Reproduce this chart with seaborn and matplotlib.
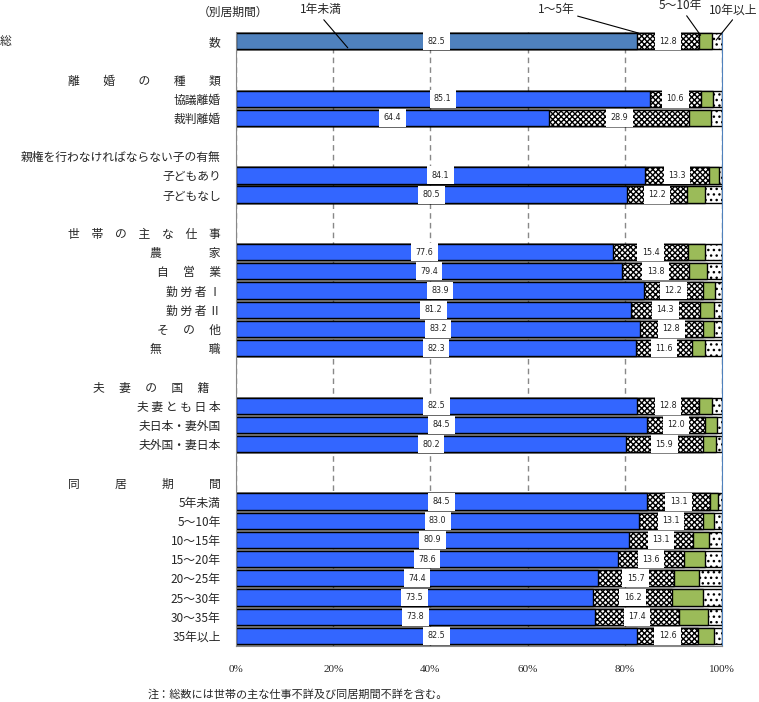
import pandas as pd
import matplotlib
matplotlib.use("Agg")
import matplotlib.pyplot as plt
import seaborn as sns

# =====================================================
# DATA
# =====================================================

# row keys (top to bottom); blank rows use distinct space strings
rows = [
    "総数", " ",
    "離婚の種類", "協議離婚", "裁判離婚", "  ",
    "親権", "子どもあり", "子どもなし", "   ",
    "世帯の主な仕事", "農家", "自営業", "勤労者Ⅰ", "勤労者Ⅱ", "その他", "無職", "    ",
    "夫妻の国籍", "夫妻とも日本", "夫日本・妻外国", "夫外国・妻日本", "     ",
    "同居期間", "5年未満", "5～10年", "10～15年", "15～20年",
    "20～25年", "25～30年", "30～35年", "35年以上",
]

# labels as shown on the axis (spaced like the original)
row_labels = [
    "数", "",
    "離　　婚　　の　　種　　類", "協議離婚", "裁判離婚", "",
    "親権を行わなければならない子の有無", "子どもあり", "子どもなし", "",
    "世　帯　の　主　な　仕　事", "農　　　　家", "自　 営　 業", "勤 労 者 Ⅰ", "勤 労 者 Ⅱ",
    "そ　 の　 他", "無　　　　職", "",
    "夫　 妻　 の　 国　 籍　", "夫 妻 と も 日 本", "夫日本・妻外国", "夫外国・妻日本", "",
    "同　　　居　　　期　　　間", "5年未満", "5～10年", "10～15年", "15～20年",
    "20～25年", "25～30年", "30～35年", "35年以上",
]

# rows that carry a bar
bar_rows = [
    "総数", "協議離婚", "裁判離婚", "子どもあり", "子どもなし",
    "農家", "自営業", "勤労者Ⅰ", "勤労者Ⅱ", "その他", "無職",
    "夫妻とも日本", "夫日本・妻外国", "夫外国・妻日本",
    "5年未満", "5～10年", "10～15年", "15～20年",
    "20～25年", "25～30年", "30～35年", "35年以上",
]

under_1y = [82.5, 85.1, 64.4, 84.1, 80.5, 77.6, 79.4, 83.9, 81.2, 83.2, 82.3,
            82.5, 84.5, 80.2, 84.5, 83.0, 80.9, 78.6, 74.4, 73.5, 73.8, 82.5]
y1_5 = [12.8, 10.6, 28.9, 13.3, 12.2, 15.4, 13.8, 12.2, 14.3, 12.8, 11.6,
        12.8, 12.0, 15.9, 13.1, 13.1, 13.1, 13.6, 15.7, 16.2, 17.4, 12.6]
y5_10 = [2.6, 2.4, 4.4, 2.0, 3.7, 3.6, 3.8, 2.5, 2.9, 2.4, 2.7,
         2.7, 2.5, 2.6, 1.6, 2.3, 3.3, 4.2, 5.1, 6.4, 6.0, 3.3]
over_10y = [2.1, 1.9, 2.3, 0.6, 3.6, 3.4, 3.0, 1.4, 1.6, 1.6, 3.4,
            2.0, 1.0, 1.3, 0.8, 1.6, 2.7, 3.6, 4.8, 3.9, 2.8, 1.6]

df = pd.DataFrame({
    "row": bar_rows,
    "lt1": under_1y,
    "y1_5": y1_5,
    "y5_10": y5_10,
    "ge10": over_10y,
})
df["c1"] = df["lt1"]
df["c2"] = df["c1"] + df["y1_5"]
df["c3"] = df["c2"] + df["y5_10"]
df["c4"] = df["c3"] + df["ge10"]

# =====================================================
# PLOT
# =====================================================

sns.set_style("white")
plt.rcParams["font.family"] = ["Noto Sans CJK JP", "DejaVu Sans"]
plt.rcParams["hatch.linewidth"] = 1.0
plt.rcParams["hatch.color"] = "black"

fig = plt.figure(figsize=(7.59, 7.02), dpi=100)
ax = fig.add_axes([236 / 759, 56.5 / 702, 486 / 759, 614 / 702])

bar_kw = dict(orient="h", order=rows, width=0.85, saturation=1,
              edgecolor="black", linewidth=1.0, ax=ax)

# stacked: draw cumulative layers from the right-most one
sns.barplot(data=df, x="c4", y="row", color="white", hatch="...", **bar_kw)
sns.barplot(data=df, x="c3", y="row", color="#9BBB59", **bar_kw)
sns.barplot(data=df, x="c2", y="row", color="white", hatch="xxxxxx", **bar_kw)

blue_palette = {r: ("#4F81BD" if r == "総数" else "#3366FF") for r in bar_rows}
sns.barplot(data=df, x="c1", y="row", hue="row", palette=blue_palette,
            legend=False, **bar_kw)

# value labels
pos = {r: i for i, r in enumerate(rows)}
lbl_kw = dict(ha="center", va="center", fontsize=5.8, family="DejaVu Sans",
              color="#222222",
              bbox=dict(boxstyle="square,pad=0.55", fc="white", ec="none"))
for _, r in df.iterrows():
    y = pos[r["row"]]
    ax.text(r["lt1"] / 2, y, f"{r['lt1']:.1f}", **lbl_kw)
    ax.text(r["c1"] + r["y1_5"] / 2, y, f"{r['y1_5']:.1f}", **lbl_kw)

# axes
ax.set_xlim(0, 100)
ax.set_ylim(len(rows) - 0.5, -0.5)
ax.set_xticks(range(0, 101, 20))
ax.set_xticklabels([f"{v}%" for v in range(0, 101, 20)],
                   family="Liberation Serif", fontsize=8)
ax.set_xlabel("")
ax.set_ylabel("")

ax.set_yticks(range(len(rows)))
ax.set_yticklabels(row_labels, fontsize=8.5)
ax.set_yticks([i - 0.5 for i in range(len(rows) + 1)], minor=True)
ax.tick_params(axis="y", which="major", length=0, pad=11)
ax.tick_params(axis="y", which="minor", length=5, color="#888888", direction="out")
ax.tick_params(axis="x", length=5, color="#888888", direction="out", pad=9)

ax.set_axisbelow(True)
ax.xaxis.grid(True, linestyle=(0, (4, 3)), color="#888888", linewidth=1)
ax.yaxis.grid(False)

ax.spines["top"].set_visible(False)
ax.spines["left"].set_color("#888888")
ax.spines["bottom"].set_color("#888888")
ax.spines["right"].set_color("#4F81BD")

# 総 at the far left of the first row
fig.text(0, 1 - 41 / 702, "総", ha="left", va="center", fontsize=8.5)

# series names with leader lines
fig.text(233 / 759, 1 - 12 / 702, "（別居期間）", ha="center", va="center", fontsize=8.5)

notes = [
    ("1年未満", (321, 10), "center", (23.0, 0.35), (0.5, 0)),
    ("1～5年", (556, 10), "center", (82.8, -0.42), (1.0, 0.1)),
    ("5～10年", (680, 6), "center", (95.6, -0.3), (0.6, 0)),
    ("10年以上", (757, 10), "right", (98.8, -0.05), (0.55, 0)),
]
for txt, (px, py), ha, target, rel in notes:
    ax.annotate(txt, xy=target, xycoords="data",
                xytext=(px / 759, 1 - py / 702), textcoords="figure fraction",
                ha=ha, va="center", fontsize=8.5, annotation_clip=False,
                arrowprops=dict(arrowstyle="-", color="black", lw=0.8,
                                shrinkA=0, shrinkB=0, relpos=rel))

fig.text(148 / 759, 1 - 694 / 702, "注：総数には世帯の主な仕事不詳及び同居期間不詳を含む。",
         ha="left", va="center", fontsize=8)

fig.savefig("out.png", dpi=100)
